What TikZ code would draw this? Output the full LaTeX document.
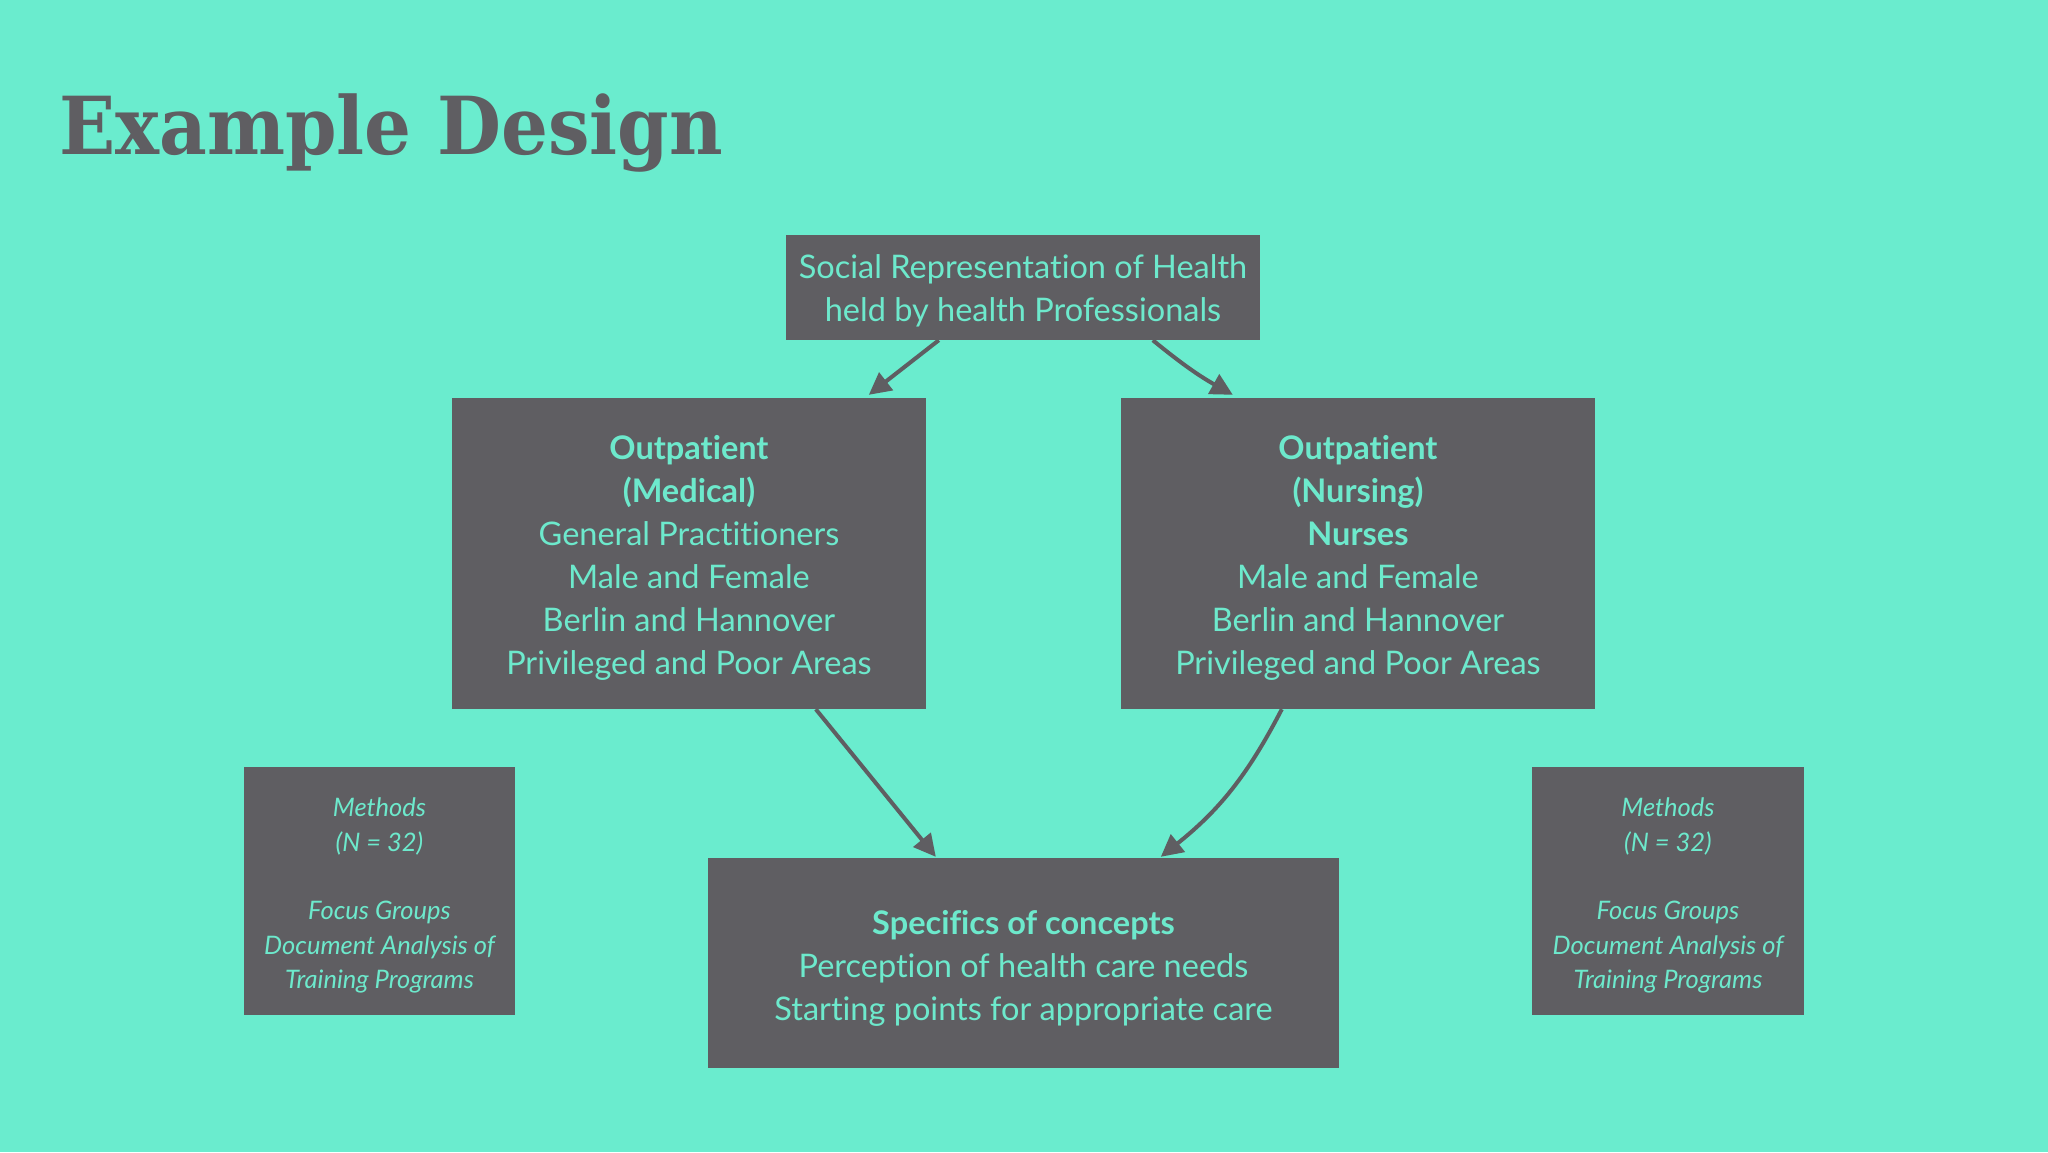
\documentclass[tikz,border=0pt]{standalone}
\usepackage{fontspec}
\setmainfont{Lato}[Ligatures={NoCommon}]
\newfontfamily\titlefont{DejaVu Serif}
\usetikzlibrary{arrows.meta,calc}
\definecolor{bg}{HTML}{6AECCE}
\definecolor{boxgray}{HTML}{5F5E62}
\definecolor{txt}{HTML}{6DE9CC}
\newcommand{\lowered}[2]{\raisebox{-#1}[\height][\depth]{#2}}
\begin{document}
\begin{tikzpicture}[x=1pt,y=-1pt,
  gbox/.style={fill=boxgray, text=txt, inner sep=0pt, align=center, font=\fontsize{32.5}{43}\selectfont},
  mbox/.style={gbox, font=\fontsize{25.5}{34.3}\selectfont\itshape},
  arr/.style={draw=boxgray, line width=4pt, -{Triangle[length=22pt,width=22pt]}}]
\fill[bg] (0,0) rectangle (2048,1152);
\useasboundingbox (0,0) rectangle (2048,1152);
\node[anchor=base west, inner sep=0pt, text=boxgray, font=\fontsize{80}{90}\selectfont\titlefont\bfseries] (title) at (59,154) {\scalebox{0.922}[1]{Example Design}};
\node[gbox, minimum width=474pt, minimum height=105pt] (top) at (1023,287.5) {\lowered{3pt}{\parbox{474pt}{\centering Social Representation of Health\\held by health Professionals}}};
\node[gbox, minimum width=474pt, minimum height=311pt] (med) at (689,553.5) {\lowered{4pt}{\parbox{474pt}{\centering\textbf{Outpatient}\\\textbf{(Medical)}\\General Practitioners\\Male and Female\\Berlin and Hannover\\Privileged and Poor Areas}}};
\node[gbox, minimum width=474pt, minimum height=311pt] (nur) at (1358,553.5) {\lowered{4pt}{\parbox{474pt}{\centering\textbf{Outpatient}\\\textbf{(Nursing)}\\\textbf{Nurses}\\Male and Female\\Berlin and Hannover\\Privileged and Poor Areas}}};
\node[gbox, minimum width=631pt, minimum height=210pt] (spec) at (1023.5,963) {\lowered{5pt}{\parbox{631pt}{\centering\textbf{Specifics of concepts}\\Perception of health care needs\\Starting points for appropriate care}}};
\node[mbox, minimum width=271pt, minimum height=248pt] (ml) at (379.5,891) {\lowered{4.5pt}{\parbox{271pt}{\centering Methods\\(N = 32)\\[34.3pt]Focus Groups\\Document Analysis of\\Training Programs}}};
\node[mbox, minimum width=272pt, minimum height=248pt] (mr) at (1668,891) {\lowered{4.5pt}{\parbox{272pt}{\centering Methods\\(N = 32)\\[34.3pt]Focus Groups\\Document Analysis of\\Training Programs}}};
\coordinate (a1) at ($(top.south west)+(153,0)$);
\coordinate (b1) at ($(med.north west)+(417,-3)$);
\coordinate (a2) at ($(top.south west)+(367,0)$);
\coordinate (b2) at ($(nur.north west)+(112,-3)$);
\coordinate (a3) at ($(med.south west)+(364,0)$);
\coordinate (b3) at ($(spec.north west)+(228,-1)$);
\coordinate (a4) at ($(nur.south west)+(161,0)$);
\coordinate (b4) at ($(spec.north west)+(453,-1)$);
\draw[arr] (a1) -- (b1);
\draw[arr] (a2) to[bend right=5] (b2);
\draw[arr] (a3) -- (b3);
\draw[arr] (a4) to[bend left=12] (b4);
\end{tikzpicture}
\end{document}
